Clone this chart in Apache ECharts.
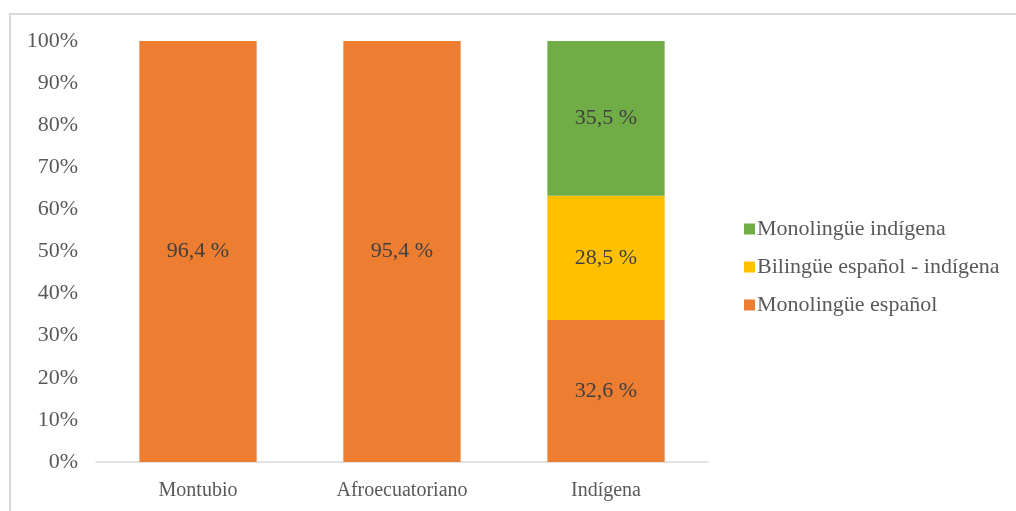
<!DOCTYPE html>
<html>
<head>
<meta charset="utf-8">
<script src="https://cdn.jsdelivr.net/npm/echarts@6/dist/echarts.min.js"></script>
<style>
  html, body { margin: 0; padding: 0; background: #fff; }
  #chart { width: 1016px; height: 511px; }
  #frame { position: absolute; left: 9px; top: 13px; right: 0; bottom: 0;
           border-top: 2px solid #d9d9d9; border-left: 2px solid #d9d9d9; pointer-events: none; }
</style>
</head>
<body>
<div id="chart"></div>
<div id="frame"></div>
<script>
const categories = ['Montubio', 'Afroecuatoriano', 'Indígena'];
const monolingueEspanol = [96.4, 95.4, 32.6];
const bilingue = [0, 0, 28.5];
const monolingueIndigena = [0, 0, 35.5];
const yTickLabels = ['0%','10%','20%','30%','40%','50%','60%','70%','80%','90%','100%'];

const raw = [monolingueEspanol, bilingue, monolingueIndigena];
const totals = categories.map((_, i) => raw.reduce((s, arr) => s + arr[i], 0));
const share = arr => arr.map((v, i) => ({ value: v / totals[i] * 100, raw: v }));

const font = 'Liberation Serif';
const labelCfg = {
  show: true,
  position: 'inside',
  fontFamily: font,
  fontSize: 22,
  color: '#404040',
  formatter: p => p.data.raw > 0 ? p.data.raw.toFixed(1).replace('.', ',') + ' %' : ''
};

const names = ['Monolingüe español', 'Bilingüe español - indígena', 'Monolingüe indígena'];
const colors = ['#ED7D31', '#FFC000', '#70AD47'];

const chart = echarts.init(document.getElementById('chart'));
chart.setOption({
  animation: false,
  grid: { left: 96, right: 308, top: 41, bottom: 49 },
  legend: {
    orient: 'vertical',
    left: 739,
    top: 213,
    itemWidth: 11,
    itemHeight: 11,
    itemGap: 16,
    icon: 'rect',
    data: [names[2], names[1], names[0]],
    textStyle: { fontFamily: font, fontSize: 22, color: '#595959', padding: [0, 0, 0, -3] }
  },
  xAxis: {
    type: 'category',
    data: categories,
    axisLine: { lineStyle: { color: '#d9d9d9', width: 1.5 } },
    axisTick: { show: false },
    axisLabel: { fontFamily: font, fontSize: 20, color: '#595959', margin: 19 }
  },
  yAxis: {
    type: 'value',
    min: 0,
    max: 100,
    interval: 10,
    axisLine: { show: false },
    axisTick: { show: false },
    splitLine: { show: false },
    axisLabel: {
      fontFamily: font, fontSize: 22, color: '#595959', margin: 18,
      formatter: v => yTickLabels[Math.round(v / 10)]
    }
  },
  series: raw.map((arr, k) => ({
    name: names[k],
    type: 'bar',
    stack: 'total',
    barWidth: '57.5%',
    itemStyle: { color: colors[k] },
    label: labelCfg,
    data: share(arr)
  }))
});
</script>
</body>
</html>
